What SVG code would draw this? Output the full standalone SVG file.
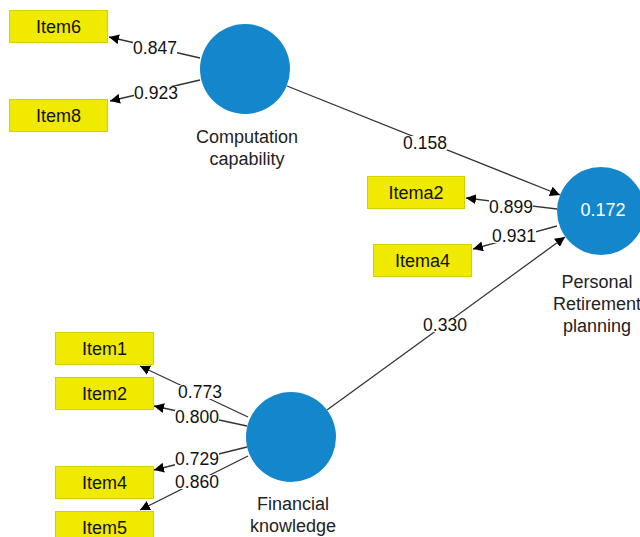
<svg xmlns="http://www.w3.org/2000/svg" width="640" height="537" viewBox="0 0 640 537">
<style>
.box{fill:#f0ea00;stroke:#d6d000;stroke-width:1}
.bt{font-family:"Liberation Sans",Arial,sans-serif;font-size:18px;fill:#111;text-anchor:middle}
.lv{fill:#1487cc}
.lt{font-family:"Liberation Sans",Arial,sans-serif;font-size:18px;fill:#222;text-anchor:middle}
.num{font-family:"Liberation Sans",Arial,sans-serif;font-size:17.5px;fill:#111;text-anchor:middle}
.bg{fill:#fff}
.ln{stroke:#333;stroke-width:1.3;fill:none;marker-end:url(#ah)}
</style>
<defs>
<marker id="ah" viewBox="0 0 10 10" refX="10" refY="5" markerWidth="10" markerHeight="10" markerUnits="userSpaceOnUse" orient="auto">
<path d="M0,0 L10,5 L0,10 z" fill="#000"/>
</marker>
</defs>
<rect width="640" height="537" fill="#fff"/>
<g id="connectors">
<line class="ln" x1="200" y1="58" x2="109" y2="37"/>
<line class="ln" x1="200" y1="80" x2="110" y2="101"/>
<line class="ln" x1="287" y1="86" x2="560" y2="195"/>
<line class="ln" x1="557" y1="209" x2="466" y2="198"/>
<line class="ln" x1="557" y1="226" x2="473" y2="249"/>
<line class="ln" x1="327" y1="410" x2="565" y2="237"/>
<line class="ln" x1="248" y1="417" x2="140" y2="366"/>
<line class="ln" x1="247" y1="426" x2="154" y2="406"/>
<line class="ln" x1="247" y1="447" x2="154" y2="470"/>
<line class="ln" x1="248" y1="456" x2="140" y2="510"/>
<g class="bg">
<rect x="133" y="41" width="44" height="14"/>
<rect x="134" y="86" width="44" height="14"/>
<rect x="403" y="136" width="44" height="14"/>
<rect x="423" y="318" width="44" height="14"/>
<rect x="489" y="200" width="44" height="14"/>
<rect x="492" y="229" width="44" height="14"/>
<rect x="178" y="385" width="44" height="14"/>
<rect x="175" y="410" width="44" height="14"/>
<rect x="175" y="452" width="44" height="14"/>
<rect x="175" y="475" width="44" height="14"/>
</g>
<text class="num" x="155" y="54">0.847</text>
<text class="num" x="156" y="99">0.923</text>
<text class="num" x="425" y="149">0.158</text>
<text class="num" x="445" y="331">0.330</text>
<text class="num" x="511" y="213">0.899</text>
<text class="num" x="514" y="242">0.931</text>
<text class="num" x="200" y="398">0.773</text>
<text class="num" x="197" y="423">0.800</text>
<text class="num" x="197" y="465">0.729</text>
<text class="num" x="197" y="488">0.860</text>
</g>
<g id="item6"><rect class="box" x="9.5" y="10.5" width="98" height="32"/><text class="bt" x="58.5" y="32.5">Item6</text></g>
<g id="item8"><rect class="box" x="9.5" y="99.5" width="98" height="32"/><text class="bt" x="58.5" y="121.5">Item8</text></g>
<g id="itema2"><rect class="box" x="367.5" y="176.5" width="97" height="32"/><text class="bt" x="416" y="198.5">Itema2</text></g>
<g id="itema4"><rect class="box" x="373.5" y="244.5" width="98" height="32"/><text class="bt" x="422.5" y="266.5">Itema4</text></g>
<g id="item1"><rect class="box" x="55.5" y="332.5" width="98" height="32"/><text class="bt" x="104.5" y="354.5">Item1</text></g>
<g id="item2"><rect class="box" x="55.5" y="377.5" width="98" height="32"/><text class="bt" x="104.5" y="399.5">Item2</text></g>
<g id="item4"><rect class="box" x="55.5" y="466.5" width="98" height="32"/><text class="bt" x="104.5" y="488.5">Item4</text></g>
<g id="item5"><rect class="box" x="55.5" y="511.5" width="98" height="32"/><text class="bt" x="104.5" y="533.5">Item5</text></g>
<g id="computation-capability"><circle class="lv" cx="245" cy="69" r="45"/><text class="lt" x="247" y="143">Computation</text><text class="lt" x="247" y="165">capability</text></g>
<g id="personal-retirement-planning"><circle class="lv" cx="601" cy="211" r="44"/><text x="603" y="216" font-family="Liberation Sans,Arial,sans-serif" font-size="18" fill="#fff" text-anchor="middle">0.172</text><text class="lt" x="597" y="288">Personal</text><text class="lt" x="597" y="310">Retirement</text><text class="lt" x="597" y="332">planning</text></g>
<g id="financial-knowledge"><circle class="lv" cx="291" cy="437" r="45"/><text class="lt" x="293" y="510">Financial</text><text class="lt" x="293" y="532">knowledge</text></g>
</svg>
